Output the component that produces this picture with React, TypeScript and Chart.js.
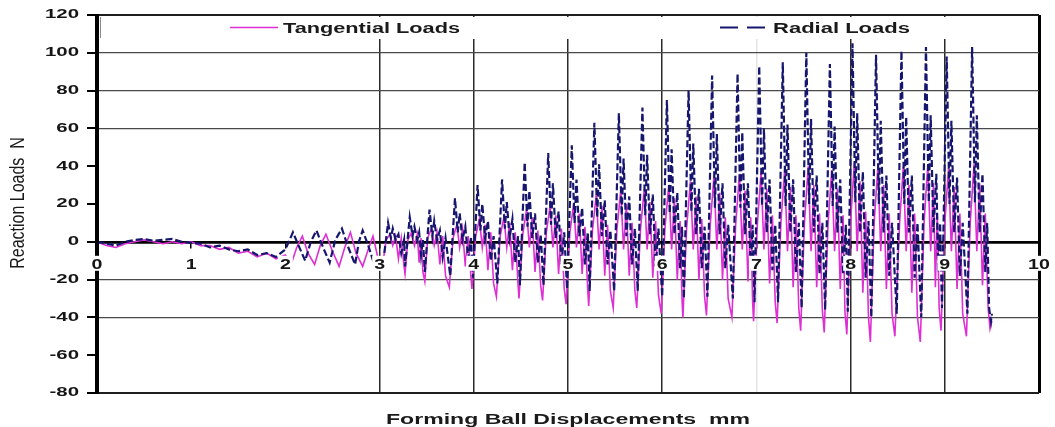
import React, { useEffect, useRef } from "react";
import { Chart, registerables } from "chart.js";

Chart.register(...registerables);

const X_TICKS = [0, 1, 2, 3, 4, 5, 6, 7, 8, 9, 10];
const Y_TICKS = [-80, -60, -40, -20, 0, 20, 40, 60, 80, 100, 120];
const SERIES_NAMES = ["Tangential Loads", "Radial Loads"];
const X_TITLE = "Forming Ball Displacements  mm";
const Y_TITLE = "Reaction Loads  N";

const radialX = [
  0, 0.1, 0.2, 0.3, 0.4, 0.5, 0.6, 0.7, 0.8, 0.9, 1.0, 1.1, 1.2, 1.3, 1.4, 1.5, 1.6, 1.7, 1.8, 1.9,
  2.0, 2.08, 2.14, 2.21, 2.27, 2.33, 2.4, 2.47, 2.53, 2.6, 2.66, 2.74, 2.78, 2.82, 2.88, 2.95,
  3.04, 3.09, 3.12, 3.14, 3.17, 3.2, 3.23, 3.26,
  3.27, 3.32, 3.35, 3.37, 3.4, 3.42, 3.44, 3.46,
  3.48, 3.53, 3.56, 3.58, 3.61, 3.64, 3.67, 3.7,
  3.75, 3.8, 3.83, 3.85, 3.88, 3.91, 3.94, 3.97,
  3.99, 4.04, 4.07, 4.09, 4.12, 4.15, 4.18, 4.21,
  4.25, 4.3, 4.33, 4.35, 4.38, 4.41, 4.44, 4.47,
  4.49, 4.54, 4.57, 4.59, 4.62, 4.65, 4.68, 4.71,
  4.74, 4.79, 4.82, 4.84, 4.87, 4.9, 4.93, 4.96,
  4.99, 5.04, 5.07, 5.09, 5.12, 5.15, 5.18, 5.21,
  5.23, 5.28, 5.31, 5.33, 5.36, 5.39, 5.42, 5.45,
  5.49, 5.54, 5.57, 5.59, 5.62, 5.65, 5.68, 5.71,
  5.74, 5.79, 5.82, 5.84, 5.87, 5.9, 5.93, 5.96,
  6.0, 6.05, 6.08, 6.1, 6.13, 6.16, 6.19, 6.21,
  6.23, 6.28, 6.31, 6.33, 6.36, 6.39, 6.42, 6.45,
  6.48, 6.53, 6.56, 6.58, 6.61, 6.64, 6.67, 6.7,
  6.75, 6.8, 6.83, 6.85, 6.88, 6.91, 6.94, 6.96,
  6.98, 7.03, 7.06, 7.08, 7.11, 7.14, 7.17, 7.2,
  7.23, 7.28, 7.31, 7.33, 7.36, 7.39, 7.42, 7.45,
  7.48, 7.53, 7.56, 7.58, 7.61, 7.64, 7.67, 7.7,
  7.73, 7.78, 7.81, 7.83, 7.86, 7.89, 7.92, 7.95,
  7.97, 8.02, 8.05, 8.07, 8.1, 8.13, 8.16, 8.19,
  8.22, 8.27, 8.3, 8.32, 8.35, 8.38, 8.41, 8.44,
  8.49, 8.54, 8.57, 8.59, 8.62, 8.65, 8.68, 8.71,
  8.75, 8.8, 8.83, 8.85, 8.88, 8.91, 8.93, 8.95,
  8.97, 9.02, 9.05, 9.07, 9.1, 9.13, 9.16, 9.19,
  9.24, 9.29, 9.32, 9.34, 9.37, 9.4, 9.43, 9.45,
  9.47, 9.49, 9.5,
];

const radialY = [
  0, -1, -2, 0, 1, 1.5, 0.5, 1, 1.5, 0, -0.5, -1, -3, -2, -4, -5, -4, -7, -6, -8,
  -4, 5, -2, -10, 0, 6, -3, -11, 1, 7, -2, -12, 0, 6, -2, -13,
  -10, 10, 2, 7, 1, 4, -6, 1,
  -13, 13, 3, 8, 1, 5, -7, 1,
  -16, 17, 3, 11, 1, 6, -8, 2,
  -18, 23, 5, 15, 1, 8, -9, 2,
  -19, 30, 6, 20, 2, 11, -10, 3,
  -22, 33, 7, 21, 2, 12, -11, 3,
  -23, 42, 8, 27, 2, 15, -11, 4,
  -23, 47, 9, 31, 2, 16, -12, 5,
  -25, 51, 10, 33, 3, 18, -12, 5,
  -26, 63, 13, 41, 3, 22, -12, 6,
  -26, 68, 14, 44, 3, 24, -12, 7,
  -26, 71, 14, 46, 4, 25, -13, 7,
  -29, 75, 15, 49, 4, 26, -14, 8,
  -30, 80, 16, 52, 4, 28, -14, 8,
  -29, 88, 18, 57, 4, 31, -14, 9,
  -30, 89, 18, 58, 4, 31, -15, 9,
  -32, 93, 19, 60, 5, 33, -15, 9,
  -32, 95, 19, 62, 5, 33, -16, 10,
  -35, 100, 20, 65, 5, 35, -17, 10,
  -36, 94, 19, 61, 5, 33, -17, 9,
  -37, 105, 21, 68, 5, 37, -19, 11,
  -40, 99, 20, 64, 5, 35, -18, 10,
  -38, 101, 20, 66, 5, 35, -19, 10,
  -40, 103, 21, 67, 5, 36, -16, 10,
  -35, 98, 20, 64, 5, 34, -18, 10,
  -38, 103, 21, 67, 5, 36, -16, 10,
  -35, -42, -38,
];

const tangentialX = [
  0, 0.1, 0.2, 0.3, 0.4, 0.5, 0.6, 0.7, 0.8, 0.9, 1.0, 1.1, 1.2, 1.3, 1.4, 1.5, 1.6, 1.7, 1.8, 1.9,
  2.0, 2.06, 2.12, 2.18, 2.24, 2.31, 2.37, 2.43, 2.5, 2.57, 2.63, 2.69, 2.75, 2.82, 2.88, 2.93, 2.98,
  3.03, 3.07, 3.11, 3.14, 3.17, 3.2, 3.23, 3.26,
  3.27, 3.3, 3.34, 3.37, 3.4, 3.42, 3.44, 3.46,
  3.48, 3.51, 3.55, 3.58, 3.61, 3.64, 3.67, 3.7,
  3.74, 3.78, 3.82, 3.85, 3.88, 3.91, 3.94, 3.97,
  3.98, 4.02, 4.06, 4.09, 4.12, 4.15, 4.18, 4.21,
  4.24, 4.28, 4.32, 4.35, 4.38, 4.41, 4.44, 4.47,
  4.48, 4.52, 4.56, 4.59, 4.62, 4.65, 4.68, 4.71,
  4.73, 4.77, 4.81, 4.84, 4.87, 4.9, 4.93, 4.96,
  4.98, 5.02, 5.06, 5.09, 5.12, 5.15, 5.18, 5.21,
  5.22, 5.26, 5.3, 5.33, 5.36, 5.39, 5.42, 5.45,
  5.48, 5.52, 5.56, 5.59, 5.62, 5.65, 5.68, 5.71,
  5.73, 5.77, 5.81, 5.84, 5.87, 5.9, 5.93, 5.96,
  5.99, 6.03, 6.07, 6.1, 6.13, 6.16, 6.19, 6.21,
  6.22, 6.26, 6.3, 6.33, 6.36, 6.39, 6.42, 6.45,
  6.47, 6.51, 6.55, 6.58, 6.61, 6.64, 6.67, 6.7,
  6.74, 6.78, 6.82, 6.85, 6.88, 6.91, 6.94, 6.96,
  6.97, 7.01, 7.05, 7.08, 7.11, 7.14, 7.17, 7.2,
  7.22, 7.26, 7.3, 7.33, 7.36, 7.39, 7.42, 7.45,
  7.47, 7.51, 7.55, 7.58, 7.61, 7.64, 7.67, 7.7,
  7.72, 7.76, 7.8, 7.83, 7.86, 7.89, 7.92, 7.94,
  7.96, 8.0, 8.04, 8.07, 8.1, 8.13, 8.16, 8.19,
  8.21, 8.25, 8.29, 8.32, 8.35, 8.38, 8.41, 8.44,
  8.47, 8.52, 8.56, 8.59, 8.62, 8.65, 8.68, 8.71,
  8.74, 8.78, 8.82, 8.85, 8.88, 8.9, 8.92, 8.94,
  8.96, 9.0, 9.04, 9.07, 9.1, 9.13, 9.16, 9.19,
  9.23, 9.27, 9.31, 9.34, 9.37, 9.4, 9.43, 9.46,
  9.48, 9.5,
];

const tangentialY = [
  0, -2, -3, -1, 0, 1, 0, -1, 0, -1, 0, -2, -2, -4, -3, -6, -5, -8, -6, -9,
  -7, -12, -3, 3, -6, -12, -2, 4, -5, -13, -3, 5, -6, -13, -4, 3, -8,
  -13, 1, 4, -2, 3, -9, 2, -13,
  -17, 1, 5, -2, 4, -11, 2, -16,
  -21, 2, 7, -2, 5, -12, 3, -18,
  -24, 2, 9, -3, 7, -13, 3, -19,
  -25, 3, 12, -3, 9, -15, 5, -22,
  -29, 3, 13, -3, 10, -15, 5, -23,
  -30, 4, 17, -3, 13, -16, 6, -23,
  -31, 5, 19, -3, 14, -17, 7, -25,
  -33, 5, 20, -3, 15, -17, 8, -26,
  -34, 6, 25, -4, 19, -18, 9, -26,
  -35, 7, 27, -4, 20, -18, 10, -26,
  -35, 7, 28, -4, 21, -19, 11, -28,
  -38, 8, 30, -4, 23, -20, 11, -30,
  -40, 8, 32, -4, 24, -20, 12, -29,
  -39, 9, 35, -4, 26, -20, 13, -30,
  -40, 9, 36, -4, 27, -21, 13, -32,
  -42, 9, 37, -4, 28, -22, 14, -32,
  -43, 10, 38, -5, 29, -24, 14, -35,
  -47, 10, 40, -5, 30, -24, 15, -36,
  -48, 9, 38, -5, 28, -25, 14, -37,
  -49, 11, 42, -5, 32, -27, 16, -40,
  -53, 10, 40, -5, 30, -25, 15, -38,
  -50, 10, 40, -5, 30, -27, 15, -40,
  -53, 10, 41, -5, 31, -24, 15, -35,
  -47, 10, 39, -5, 29, -25, 15, -38,
  -50, 10, 41, -5, 31, -23, 15, -35,
  -46, -42,
];

const FONT = '"Liberation Sans", Arial, sans-serif';
const TANG_COLOR = "#de2fd4";
const RADIAL_COLOR = "#16166e";

function drawStretched(
  ctx: CanvasRenderingContext2D,
  text: string,
  x: number,
  y: number,
  font: string,
  sx: number,
  align: CanvasTextAlign,
  baseline: CanvasTextBaseline,
  color: string
) {
  ctx.save();
  ctx.font = font;
  ctx.fillStyle = color;
  ctx.textAlign = align;
  ctx.textBaseline = baseline;
  ctx.translate(x, y);
  ctx.scale(sx, 1);
  ctx.fillText(text, 0, 0);
  ctx.restore();
}

function fitWidth(ctx: CanvasRenderingContext2D, text: string, font: string, width: number) {
  ctx.save();
  ctx.font = font;
  const w = ctx.measureText(text).width;
  ctx.restore();
  return w > 0 ? width / w : 1;
}

const decorPlugin = {
  id: "decor",
  beforeDatasetsDraw(chart: any) {
    const ctx: CanvasRenderingContext2D = chart.ctx;
    const { left, right, top } = chart.chartArea;
    ctx.save();
    ctx.fillStyle = "#ffffff";
    ctx.fillRect(left + 3, top + 2, right - left - 6, 22);
    ctx.fillStyle = "#8a8a8a";
    ctx.fillRect(left + 3, top + 2, 1, 21);
    ctx.restore();
  },
  afterDraw(chart: any) {
    const ctx: CanvasRenderingContext2D = chart.ctx;
    const xs = chart.scales.x;
    const ys = chart.scales.y;
    const { left, top, bottom } = chart.chartArea;
    const zeroY = ys.getPixelForValue(0);

    // left axis line + tick marks
    ctx.save();
    ctx.fillStyle = "#000000";
    ctx.fillRect(left - 2, top - 1, 4, bottom - top + 2);
    Y_TICKS.forEach((v) => {
      const py = ys.getPixelForValue(v);
      ctx.fillRect(left - 10, Math.round(py) - 1, 10, 2);
    });
    ctx.restore();

    // y tick labels
    const yFont = `bold 12px ${FONT}`;
    Y_TICKS.forEach((v) => {
      drawStretched(ctx, String(v), 79, ys.getPixelForValue(v), yFont, 1.7, "right", "middle", "#161616");
    });

    // x tick labels (white background)
    const xFont = `bold 14px ${FONT}`;
    X_TICKS.forEach((v) => {
      const px = xs.getPixelForValue(v);
      ctx.save();
      ctx.font = xFont;
      const w = ctx.measureText(String(v)).width * 1.4;
      ctx.fillStyle = "#ffffff";
      ctx.fillRect(px - w / 2 - 2, zeroY + 14, w + 4, 15);
      ctx.restore();
      drawStretched(ctx, String(v), px, zeroY + 27, xFont, 1.4, "center", "alphabetic", "#161616");
    });

    // legend
    ctx.save();
    ctx.strokeStyle = TANG_COLOR;
    ctx.lineWidth = 1.5;
    ctx.beginPath();
    ctx.moveTo(230, 27.5);
    ctx.lineTo(278, 27.5);
    ctx.stroke();
    ctx.strokeStyle = RADIAL_COLOR;
    ctx.lineWidth = 2;
    ctx.setLineDash([18, 9]);
    ctx.beginPath();
    ctx.moveTo(720, 27.5);
    ctx.lineTo(766, 27.5);
    ctx.stroke();
    ctx.restore();
    const lFont = `bold 14px ${FONT}`;
    drawStretched(ctx, SERIES_NAMES[0], 283, 33, lFont, fitWidth(ctx, SERIES_NAMES[0], lFont, 177), "left", "alphabetic", "#1a1a1a");
    drawStretched(ctx, SERIES_NAMES[1], 773, 33, lFont, fitWidth(ctx, SERIES_NAMES[1], lFont, 137), "left", "alphabetic", "#1a1a1a");

    // x title
    const tFont = `bold 14px ${FONT}`;
    const cx = (chart.chartArea.left + chart.chartArea.right) / 2;
    drawStretched(ctx, X_TITLE, cx, 424, tFont, fitWidth(ctx, X_TITLE, tFont, 364), "center", "alphabetic", "#1a1a1a");

    // y title (rotated)
    const yt = `16px ${FONT}`;
    ctx.save();
    ctx.font = yt;
    ctx.fillStyle = "#1a1a1a";
    ctx.textAlign = "center";
    ctx.textBaseline = "alphabetic";
    ctx.translate(24, 203);
    ctx.scale(1.3, 1);
    ctx.rotate(-Math.PI / 2);
    ctx.fillText(Y_TITLE, 0, 0);
    ctx.restore();
  },
};

const DARK_Y = new Set([100, 80, 60, -20, -40]);
const DARK_X = new Set([3, 4, 5, 6, 8, 9]);

export default function App() {
  const canvasRef = useRef<HTMLCanvasElement | null>(null);

  useEffect(() => {
    const canvas = canvasRef.current;
    if (!canvas) return;
    const chart = new Chart(canvas, {
      type: "line",
      data: {
        datasets: [
          {
            label: SERIES_NAMES[1],
            data: radialX.map((x, i) => ({ x, y: radialY[i] })),
            borderColor: RADIAL_COLOR,
            borderWidth: 2.2,
            borderDash: [7, 3],
            pointRadius: 0,
            tension: 0,
            fill: false,
          },
          {
            label: SERIES_NAMES[0],
            data: tangentialX.map((x, i) => ({ x, y: tangentialY[i] })),
            borderColor: TANG_COLOR,
            borderWidth: 1.6,
            pointRadius: 0,
            tension: 0,
            fill: false,
          },
        ],
      },
      options: {
        animation: false,
        responsive: false,
        maintainAspectRatio: false,
        layout: { padding: { left: 0, top: 15, right: 16, bottom: 34 } },
        plugins: {
          legend: { display: false },
          tooltip: { enabled: false },
          title: { display: false },
        },
        scales: {
          x: {
            type: "linear",
            min: 0,
            max: 10,
            position: { y: 0 } as any,
            afterBuildTicks: (s: any) => {
              s.ticks = X_TICKS.map((v) => ({ value: v }));
            },
            ticks: { display: false },
            grid: {
              color: (c: any) => {
                const v = c.tick ? c.tick.value : -1;
                if (v === 10 || v === 0) return "#000000";
                if (v === 7) return "#e4e4e4";
                if (DARK_X.has(v)) return "#2a2a2a";
                return "rgba(0,0,0,0)";
              },
              lineWidth: (c: any) => {
                const v = c.tick ? c.tick.value : -1;
                if (v === 10 || v === 0) return 3;
                return 1.5;
              },
              tickLength: 5,
              tickColor: "#000000",
              tickWidth: 1.5,
            },
            border: { color: "#000000", width: 2.5 },
          },
          y: {
            type: "linear",
            position: "left",
            min: -80,
            max: 120,
            afterBuildTicks: (s: any) => {
              s.ticks = Y_TICKS.map((v) => ({ value: v }));
            },
            afterFit: (s: any) => {
              s.width = 97;
            },
            ticks: { display: false },
            grid: {
              color: (c: any) => {
                const v = c.tick ? c.tick.value : 0;
                if (v === 120 || v === -80) return "#1e1e1e";
                if (v === 0) return "#000000";
                if (DARK_Y.has(v)) return "#4a4a4a";
                return "rgba(0,0,0,0)";
              },
              lineWidth: (c: any) => {
                const v = c.tick ? c.tick.value : 0;
                if (v === 120 || v === -80) return 2;
                if (v === 0) return 2.5;
                return 1.2;
              },
              drawTicks: false,
            },
            border: { color: "#000000", width: 3 },
          },
        },
      },
      plugins: [decorPlugin],
    });
    return () => chart.destroy();
  }, []);

  return (
    <div style={{ position: "fixed", left: 0, top: 0, width: 1055, height: 427, background: "#ffffff" }}>
      <canvas ref={canvasRef} width={1055} height={427} style={{ display: "block" }} />
    </div>
  );
}
